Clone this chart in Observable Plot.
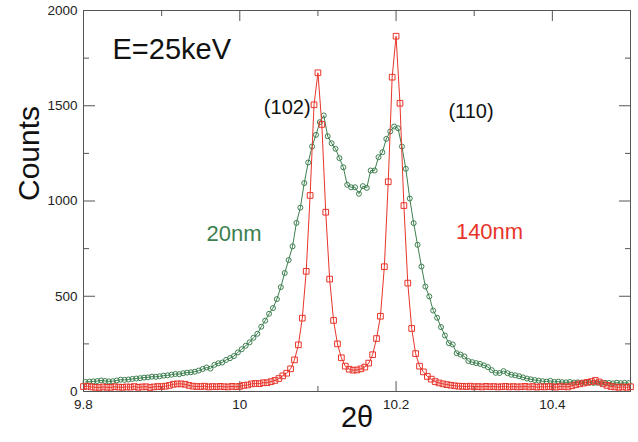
<!DOCTYPE html>
<html><head><meta charset="utf-8">
<script src="https://cdn.jsdelivr.net/npm/d3@7"></script>
<script src="https://cdn.jsdelivr.net/npm/@observablehq/plot@0.6"></script>
<style>body{margin:0;background:#fff} svg{display:block}</style>
</head><body><div id="chart"></div>
<script>
// scan grids (start, step) of the two measurements
const scanStart140 = 9.8;
const scanStart20 = 9.8025;
const scanStep = 0.005;

// 140nm sample (red squares), 9.800 .. 10.500
const counts140nm = [
  26,28,24,22,21,24,22,22,25,23,
  22,24,23,26,22,24,25,21,24,26,
  26,28,32,38,40,40,38,32,28,26,
  26,28,24,26,25,27,25,24,27,25,
  27,32,34,40,42,41,46,46,52,58,
  68,82,96,119,166,245,385,631,1029,1505,
  1673,1402,941,590,373,250,177,133,117,112,
  113,119,128,149,193,278,395,655,1101,1650,
  1865,1513,976,569,331,199,133,103,79,65,
  52,45,40,36,33,30,28,27,26,28,
  25,26,24,27,25,26,24,25,27,24,
  26,24,25,27,24,26,23,25,24,26,
  25,23,26,25,24,30,35,40,44,48,
  52,58,50,40,32,26,24,22,24,22,
  25
];

// 20nm sample (green circles), 9.8025 .. 10.4975
const counts20nm = [
  50,52,53,55,58,55,53,54,58,62,
  61,63,66,68,70,73,74,78,77,80,
  83,85,88,92,91,96,99,101,104,110,
  118,126,120,140,148,152,166,175,186,205,
  222,240,258,282,303,340,372,408,438,485,
  548,622,690,762,885,965,1094,1202,1286,1347,
  1414,1449,1340,1303,1274,1225,1177,1085,1072,1072,
  1038,1078,1069,1160,1160,1230,1256,1326,1365,1391,
  1382,1286,1169,1013,884,770,656,551,499,425,
  387,338,294,254,247,201,194,184,160,154,
  149,145,137,128,112,98,97,107,96,88,
  85,80,74,68,64,60,57,54,52,56,
  50,52,49,48,50,47,48,46,49,47,
  45,46,44,46,45,43,46,44,45,44
];

const xMajorTicks = [9.8, 10, 10.2, 10.4];
const xMinorTicks = [9.9, 10.1, 10.3];
const yMajorTicks = [0, 500, 1000, 1500, 2000];
const yMinorTicks = [250, 750, 1250, 1750];

const energyLabel = [{text: "E=25keV", x: 9.8371, y: 1793}];
const annotations = [
  {text: "(102)", x: 10.0607, y: 1488, size: 20, color: "#111"},
  {text: "(110)", x: 10.2959, y: 1467, size: 20, color: "#111"},
  {text: "20nm", x: 9.9926, y: 829, size: 22, color: "#3d7f4f"},
  {text: "140nm", x: 10.3196, y: 838, size: 22, color: "#e8352b"}
];

const green = "#3d7f4f";
const red = "#e8352b";
const axisColor = "#555";

const s140 = counts140nm.map((c, i) => ({x: scanStart140 + i * scanStep, y: c}));
const s20 = counts20nm.map((c, i) => ({x: scanStart20 + i * scanStep, y: c}));

const noText = () => "";
// inward ticks: positive tick length, shifted back inside the frame
const tickX = (ticks, anchor, size) =>
  Plot.axisX(ticks, {anchor, tickSize: size, dy: anchor === "bottom" ? -size : size,
    tickFormat: noText, label: null, stroke: axisColor, tickPadding: 0});
const tickY = (ticks, anchor, size) =>
  Plot.axisY(ticks, {anchor, tickSize: size, dx: anchor === "left" ? size : -size,
    tickFormat: noText, label: null, stroke: axisColor, tickPadding: 0});

const chart = Plot.plot({
  width: 638,
  height: 442,
  marginLeft: 83,
  marginRight: 8,
  marginTop: 10,
  marginBottom: 51,
  style: {fontFamily: "'Liberation Sans', Arial, sans-serif", background: "#fff"},
  x: {domain: [9.8, 10.5]},
  y: {domain: [0, 2000]},
  marks: [
    Plot.frame({stroke: axisColor}),
    tickX(xMajorTicks, "bottom", 10),
    tickX(xMinorTicks, "bottom", 5),
    tickX(xMajorTicks, "top", 10),
    tickX(xMinorTicks, "top", 5),
    tickY(yMajorTicks, "left", 12),
    tickY(yMinorTicks, "left", 6),
    tickY(yMajorTicks, "right", 12),
    tickY(yMinorTicks, "right", 6),
    Plot.axisX(xMajorTicks, {anchor: "bottom", tickSize: 0, tickPadding: 8, fontSize: 13.5, color: "#222", label: null, tickFormat: d => String(d)}),
    Plot.axisY(yMajorTicks, {anchor: "left", tickSize: 0, tickPadding: 6, fontSize: 13.5, color: "#222", label: null, tickFormat: d => String(d)}),
    Plot.text(["Counts"], {frameAnchor: "left", rotate: -90, dx: -54, fontSize: 30, fill: "#111"}),
    Plot.text(["2θ"], {frameAnchor: "bottom", dy: 35, fontSize: 29, fill: "#111"}),
    Plot.line(s20, {x: "x", y: "y", stroke: green, strokeWidth: 1}),
    Plot.dot(s20, {x: "x", y: "y", stroke: green, r: 2.5, strokeWidth: 1, fill: "none"}),
    Plot.line(s140, {x: "x", y: "y", stroke: red, strokeWidth: 1}),
    Plot.dot(s140, {x: "x", y: "y", stroke: red, symbol: "square", r: 3.2, strokeWidth: 1, fill: "none"}),
    Plot.text(energyLabel, {x: "x", y: "y", text: "text", textAnchor: "start", fontSize: 29, fill: "#111"}),
    Plot.text(annotations, {x: "x", y: "y", text: "text", fontSize: "size", fill: d => d.color})
  ]
});
document.getElementById("chart").appendChild(chart);
</script>
</body></html>
